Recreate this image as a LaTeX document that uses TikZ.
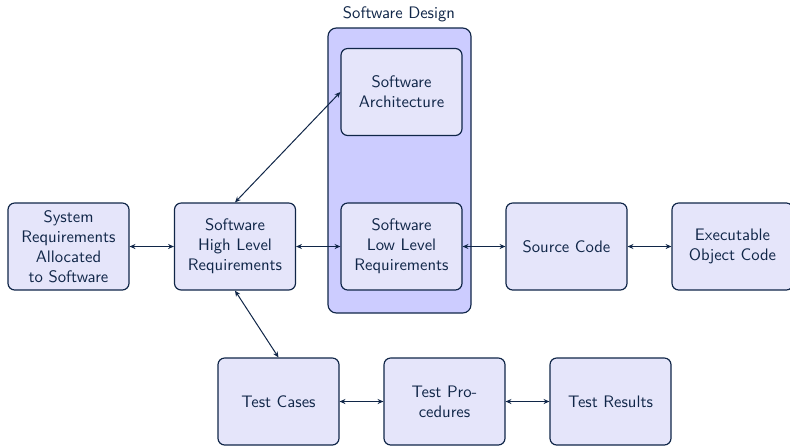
\documentclass[tikz,border=0pt]{standalone}
\usetikzlibrary{arrows.meta}
\definecolor{edge}{RGB}{16,38,72}
\definecolor{boxfill}{RGB}{229,229,250}
\definecolor{groupfill}{RGB}{204,204,255}
\tikzset{
  stepbox/.style={draw=edge, fill=boxfill, rounded corners=4pt, line width=0.7pt,
    minimum width=72.6pt, minimum height=52.2pt, text width=66pt, align=center,
    text=edge, font=\sffamily, inner sep=0pt},
  groupbox/.style={draw=edge, fill=groupfill, rounded corners=5pt, line width=0.7pt,
    minimum width=85.8pt, minimum height=171pt, inner sep=0pt},
  link/.style={draw=edge, line width=0.6pt, {Stealth[length=3.5pt,width=3pt]}-{Stealth[length=3.5pt,width=3pt]}}
}
\begin{document}
\begin{tikzpicture}[x=0.6pt,y=-0.6pt]
\useasboundingbox (0,0) rectangle (790,445);
\clip (0,0) rectangle (790,445);
% design group
\node[groupbox] (design) at (399.5,170.5) {};
\node[text=edge, font=\sffamily, anchor=base] (designlbl) at (399,18) {Software Design};
% boxes
\node[stepbox] (sysreq) at (68.5,246.5) {System\\Requirements\\Allocated\\to Software};
\node[stepbox] (hlr) at (235,246.5) {Software\\High Level\\Requirements};
\node[stepbox] (llr) at (401.5,246.5) {Software\\Low Level\\Requirements};
\node[stepbox] (arch) at (401.5,92) {Software\\Architecture};
\node[stepbox] (src) at (566.5,246.5) {Source Code};
\node[stepbox] (exe) at (732.5,246.5) {Executable\\Object Code};
\node[stepbox] (tcase) at (278.5,401.5) {Test Cases};
\node[stepbox] (tproc) at (444.5,401.5) {Test Pro-\\cedures};
\node[stepbox] (tres) at (610.5,401.5) {Test Results};
% connectors
\draw[link] (sysreq) -- (hlr);
\draw[link] (hlr) -- (llr);
\draw[link] (llr) -- (src);
\draw[link] (src) -- (exe);
\draw[link] (hlr.north) -- (arch.west);
\draw[link] (hlr.south) -- (tcase.north);
\draw[link] (tcase) -- (tproc);
\draw[link] (tproc) -- (tres);
\end{tikzpicture}
\end{document}
